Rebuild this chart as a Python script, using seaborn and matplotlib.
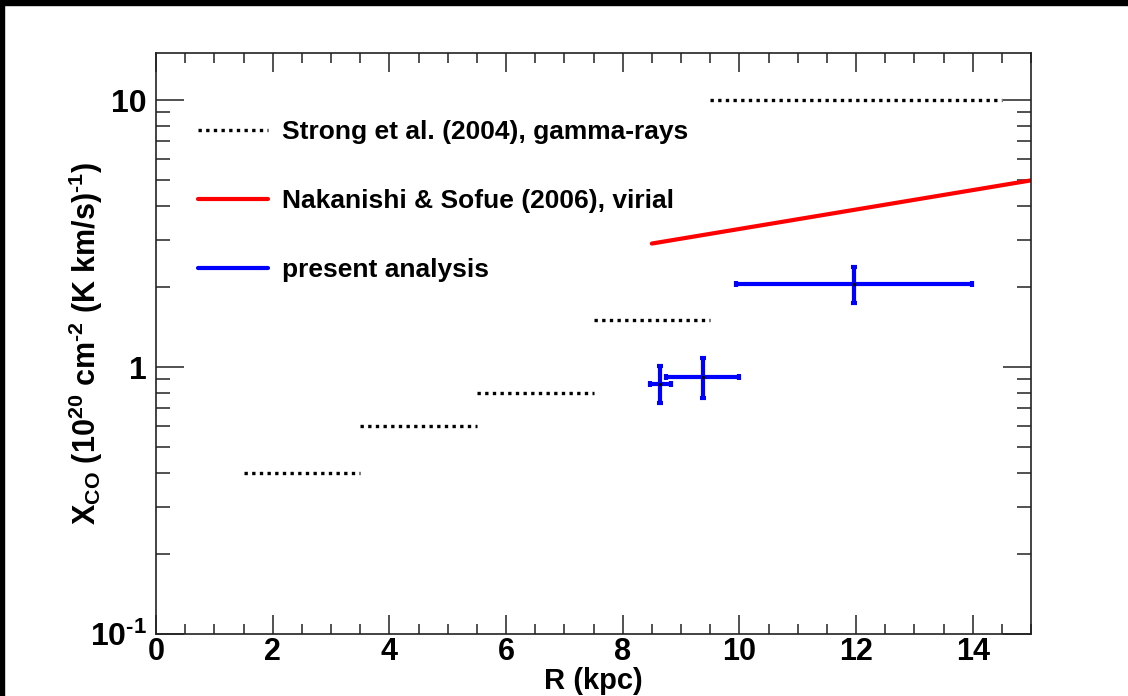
import numpy as np
import pandas as pd
import matplotlib
matplotlib.use("Agg")
import matplotlib.pyplot as plt
import seaborn as sns
from matplotlib.lines import Line2D
from matplotlib.patches import Rectangle
from matplotlib.ticker import FixedLocator, FixedFormatter, LogLocator, MultipleLocator, NullFormatter

# ---- data ----
strong_r_start = [1.5, 3.5, 5.5, 7.5, 9.5]
strong_r_end = [3.5, 5.5, 7.5, 9.5, 14.5]
strong_xco = [0.4, 0.6, 0.8, 1.5, 10.0]

virial_r = [8.5, 15.0]
virial_xco = [2.9, 5.0]

present_r = [8.64, 9.37, 11.96]
present_r_err = [0.18, 0.62, 2.02]
present_xco = [0.86, 0.92, 2.05]
present_xco_err_lo = [0.13, 0.155, 0.31]
present_xco_err_hi = [0.15, 0.16, 0.32]

legend_labels = ["Strong et al. (2004), gamma-rays",
                 "Nakanishi & Sofue (2006), virial",
                 "present analysis"]
xticks = [0, 2, 4, 6, 8, 10, 12, 14]
yticks = [0.1, 1, 10]
yticklabels = [r"$10^{\text{-1}}$", "1", "10"]

# ---- style ----
sns.set_theme(style="ticks")
plt.rcParams.update({
    "font.family": ["Liberation Sans", "DejaVu Sans"],
    "font.weight": "bold",
    "axes.labelweight": "bold",
    "text.color": "black",
    "axes.labelcolor": "black",
    "xtick.color": "black",
    "ytick.color": "black",
    "xtick.labelcolor": "black",
    "ytick.labelcolor": "black",
    "mathtext.fontset": "custom",
    "mathtext.rm": "Liberation Sans:bold",
    "mathtext.it": "Liberation Sans:bold",
    "mathtext.bf": "Liberation Sans:bold",
    "mathtext.sf": "Liberation Sans:bold",
    "mathtext.default": "rm",
})

fig = plt.figure(figsize=(11.28, 6.96), dpi=100)
ax = fig.add_axes([156/1128, 62/696, 875/1128, 581/696])

# Strong et al. segments (long form, one unit per segment)
rows = []
for i, (a, b, v) in enumerate(zip(strong_r_start, strong_r_end, strong_xco)):
    rows.append({"seg": i, "R": a, "X": v})
    rows.append({"seg": i, "R": b, "X": v})
df_strong = pd.DataFrame(rows)
dot_style = (0, (1.0, 1.3))
sns.lineplot(data=df_strong, x="R", y="X", units="seg", estimator=None,
             color="black", linewidth=2.4, linestyle=dot_style, ax=ax,
             legend=False, sort=False)

# Nakanishi & Sofue virial
df_vir = pd.DataFrame({"R": virial_r, "X": virial_xco})
sns.lineplot(data=df_vir, x="R", y="X", color="#ff0000", linewidth=3.0,
             ax=ax, legend=False, estimator=None)

# present analysis
ax.errorbar(present_r, present_xco, xerr=present_r_err,
            yerr=[present_xco_err_lo, present_xco_err_hi],
            fmt="o", color="#0000ff", ecolor="#0000ff", markersize=1.5,
            markerfacecolor="black", markeredgecolor="black",
            elinewidth=3.0, capsize=2.5, capthick=3.0, zorder=5)

ax.set_yscale("log")
ax.set_xlim(0, 15)
ax.set_ylim(0.1, 15)

ax.xaxis.set_major_locator(FixedLocator(xticks))
ax.xaxis.set_minor_locator(MultipleLocator(0.5))
ax.set_xticklabels([str(t) for t in xticks])
ax.yaxis.set_major_locator(FixedLocator(yticks))
ax.yaxis.set_major_formatter(FixedFormatter(yticklabels))
ax.yaxis.set_minor_locator(LogLocator(base=10, subs=np.arange(2, 10)))
ax.yaxis.set_minor_formatter(NullFormatter())

ax.tick_params(axis="both", which="both", direction="in", top=True, right=True,
               color="#222222", width=1.1)
ax.tick_params(axis="x", which="major", length=13.5, labelsize=22, pad=2)
ax.tick_params(axis="x", which="minor", length=7)
ax.tick_params(axis="y", which="major", length=20.5, labelsize=23, pad=6.5)
ax.tick_params(axis="y", which="minor", length=10)
for lab in ax.get_xticklabels() + ax.get_yticklabels():
    lab.set_fontweight("bold")
for s in ax.spines.values():
    s.set_linewidth(1.2)
    s.set_color("#222222")

ax.set_xlabel("R (kpc)", fontsize=21, fontweight="bold")
ax.xaxis.set_label_coords(0.5, -0.057)
ax.set_ylabel(r"X$_{\mathregular{CO}}$ (10$^{20}$ cm$^{\text{-2}}$ (K km/s)$^{\text{-1}}$)",
              fontsize=22, fontweight="bold")
ax.yaxis.set_label_coords(-0.058, 0.5)

handles = [
    Line2D([], [], color="black", linewidth=2.4, linestyle=dot_style),
    Line2D([], [], color="#ff0000", linewidth=3.0),
    Line2D([], [], color="#0000ff", linewidth=3.0),
]
ax.legend(handles, legend_labels, loc="upper left", bbox_to_anchor=(0.048, 0.884),
          frameon=False, handlelength=2.65, handletextpad=0.55,
          labelspacing=1.7, borderpad=0, borderaxespad=0,
          prop={"weight": "bold", "size": 19})

# black frame strips (top and left) as in the reference image
fig.patches.append(Rectangle((0, 1 - 5/696), 1, 5/696, transform=fig.transFigure,
                             color="black", zorder=10))
fig.patches.append(Rectangle((0, 0), 4/1128, 1, transform=fig.transFigure,
                             color="black", zorder=10))

fig.savefig("out.png", dpi=100)
